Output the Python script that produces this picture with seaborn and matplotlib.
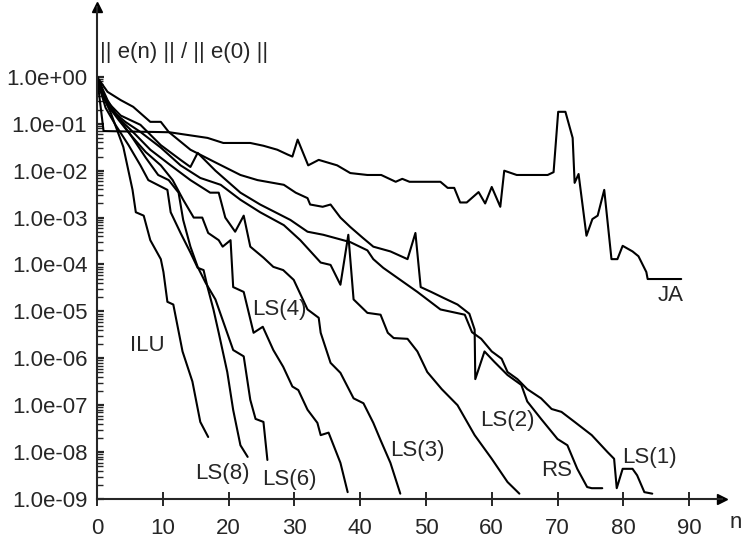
import numpy as np
import pandas as pd
import matplotlib
matplotlib.use("Agg")
import matplotlib.pyplot as plt
import seaborn as sns
from matplotlib.ticker import FixedLocator, FuncFormatter, NullFormatter

# ==============================================================================
# DATA: ||e(n)|| / ||e(0)||
# ==============================================================================
ja_n = [0, 1, 6, 11, 16.8, 19.2, 23.3, 25.3, 27.4, 29.0, 29.7, 30.5, 32.1, 33.7,
        36.5, 38.5, 41.1, 43.2, 45.4, 46.4, 47.5, 52.2, 53.3, 54.3, 55.2, 56.2,
        58.0, 59.0, 60.0, 61.3, 61.9, 63.8, 68.5, 69.4, 70.1, 71.2, 72.3, 72.6,
        73.2, 74.4, 75.3, 76.1, 77.1, 78.2, 79.1, 79.9, 81.4, 82.3, 83.5, 83.7, 88.8]
ja_e = [1.0, 7.0e-2, 6.8e-2, 6.6e-2, 5.0e-2, 3.9e-2, 3.9e-2, 3.4e-2, 2.8e-2, 2.2e-2,
        2.0e-2, 4.6e-2, 1.3e-2, 1.7e-2, 1.3e-2, 8.9e-3, 8.1e-3, 8.1e-3, 5.8e-3,
        6.7e-3, 5.8e-3, 5.8e-3, 4.3e-3, 4.3e-3, 2.1e-3, 2.1e-3, 3.5e-3, 2.0e-3,
        4.5e-3, 1.7e-3, 1.0e-2, 8.1e-3, 8.1e-3, 9.3e-3, 1.8e-1, 1.8e-1, 5.0e-2,
        5.5e-3, 8.5e-3, 4.1e-4, 9.3e-4, 1.1e-3, 3.9e-3, 1.3e-4, 1.3e-4, 2.5e-4,
        1.9e-4, 1.5e-4, 6.9e-5, 4.9e-5, 4.9e-5]

rs_n = [0, 1.6, 3.6, 5.5, 8.1, 9.7, 10.9, 14.2, 18.0, 21.8, 24.4, 28.4, 30.2, 32.0,
        32.4, 34.3, 35.5, 37.0, 38.5, 40.4, 42.0, 44.6, 47.2, 48.4, 49.2, 50.8,
        52.8, 54.8, 56.6, 57.4, 57.5, 58.9, 60.4, 62.4, 64.5, 65.4, 67.5, 70.0,
        71.5, 73.0, 74.5, 75.2, 76.8]
rs_e = [1.0, 4.8e-1, 3.2e-1, 2.3e-1, 1.1e-1, 1.1e-1, 6.7e-2, 2.8e-2, 1.5e-2, 8.1e-3,
        6.3e-3, 5.0e-3, 3.4e-3, 2.6e-3, 1.9e-3, 1.7e-3, 1.9e-3, 1.0e-3, 6.3e-4,
        3.7e-4, 2.4e-4, 1.9e-4, 1.3e-4, 4.7e-4, 3.3e-5, 2.6e-5, 1.9e-5, 1.4e-5,
        8.9e-6, 4.1e-6, 3.6e-7, 1.4e-6, 8.4e-7, 4.4e-7, 2.7e-7, 1.2e-7, 5.1e-8,
        1.9e-8, 1.4e-8, 4.4e-9, 1.8e-9, 1.7e-9, 1.7e-9]

ls1_n = [0, 1.3, 3.6, 6.6, 9.7, 12.7, 14.2, 15.3, 18.0, 21.8, 24.8, 29.4, 32.0, 34.4,
         38.5, 41.1, 42.0, 43.5, 46.1, 48.7, 52.2, 55.9, 57.0, 58.4, 60.0, 61.5,
         62.4, 63.9, 65.4, 67.5, 69.1, 70.6, 72.6, 75.2, 77.6, 78.6, 79.0, 79.9,
         81.4, 82.1, 83.2, 84.4]
ls1_e = [1.0, 3.2e-1, 1.5e-1, 9.5e-2, 3.5e-2, 1.7e-2, 1.2e-2, 2.4e-2, 1.0e-2, 3.4e-3,
         1.9e-3, 8.9e-4, 5.0e-4, 4.3e-4, 3.0e-4, 2.0e-4, 1.3e-4, 8.5e-5, 4.7e-5,
         2.6e-5, 1.1e-5, 8.5e-6, 3.6e-6, 2.6e-6, 1.4e-6, 9.8e-7, 5.1e-7, 3.6e-7,
         2.2e-7, 1.4e-7, 8.3e-8, 7.2e-8, 4.4e-8, 2.3e-8, 1.0e-8, 7.2e-9, 1.7e-9,
         4.4e-9, 4.4e-9, 3.2e-9, 1.4e-9, 1.3e-9]

ls2_n = [0, 0.8, 2.1, 4.3, 6.6, 9.7, 12.7, 15.7, 18.8, 21.8, 24.8, 28.4, 30.9, 34.0,
         35.5, 37.0, 38.2, 39.0, 41.1, 43.1, 44.2, 45.1, 47.2, 48.7, 50.2, 52.4,
         54.8, 57.4, 60.0, 62.4, 64.2]
ls2_e = [1.0, 4.1e-1, 2.0e-1, 1.1e-1, 6.7e-2, 3.1e-2, 1.3e-2, 7.0e-3, 5.0e-3, 2.4e-3,
         1.3e-3, 6.9e-4, 3.3e-4, 1.1e-4, 9.8e-5, 3.7e-5, 4.3e-4, 1.8e-5, 9.3e-6,
         8.5e-6, 3.5e-6, 2.7e-6, 2.6e-6, 1.4e-6, 5.1e-7, 2.2e-7, 1.0e-7, 2.3e-8,
         7.2e-9, 2.3e-9, 1.3e-9]

ls3_n = [0, 0.5, 1.7, 3.6, 5.9, 8.1, 11.2, 14.2, 17.2, 18.5, 19.5, 21.0, 22.3, 23.3,
         25.3, 26.8, 28.3, 29.9, 32.0, 33.7, 34.0, 35.5, 37.0, 39.0, 40.5, 42.0,
         43.1, 44.6, 46.1]
ls3_e = [1.0, 6.8e-1, 2.5e-1, 1.2e-1, 5.8e-2, 2.8e-2, 1.3e-2, 6.3e-3, 3.4e-3, 3.4e-3,
         1.0e-3, 5.0e-4, 1.1e-3, 2.4e-4, 1.4e-4, 8.9e-5, 7.6e-5, 4.7e-5, 1.1e-5,
         7.3e-6, 3.5e-6, 8.0e-7, 4.9e-7, 1.4e-7, 1.1e-7, 4.2e-8, 1.8e-8, 5.9e-9,
         1.3e-9]

ls4_n = [0, 0.5, 1.6, 3.3, 5.1, 7.4, 9.7, 11.5, 13.1, 14.7, 16.0, 16.9, 18.5, 19.1,
         20.3, 20.7, 22.3, 23.8, 25.2, 26.8, 28.3, 29.7, 30.6, 32.0, 33.5, 34.0,
         35.2, 37.0, 38.1]
ls4_e = [1.0, 7.1e-1, 3.2e-1, 1.3e-1, 5.8e-2, 2.5e-2, 1.3e-2, 6.3e-3, 2.4e-3, 1.0e-3,
         1.0e-3, 4.7e-4, 3.3e-4, 2.4e-4, 3.3e-4, 3.3e-5, 2.6e-5, 3.5e-6, 4.7e-6,
         1.5e-6, 6.6e-7, 2.5e-7, 2.1e-7, 8.0e-8, 4.2e-8, 2.3e-8, 2.6e-8, 5.9e-9,
         1.4e-9]

ls6_n = [0, 0.5, 1.6, 3.3, 5.1, 7.4, 9.3, 10.9, 12.4, 13.1, 14.2, 15.3, 16.5, 18.0,
         20.7, 22.3, 23.3, 24.1, 25.3, 25.9]
ls6_e = [1.0, 5.8e-1, 2.5e-1, 1.2e-1, 5.8e-2, 1.9e-2, 8.1e-3, 6.3e-3, 3.4e-3, 8.9e-4,
         2.4e-4, 8.9e-5, 4.1e-5, 1.8e-5, 1.5e-6, 1.1e-6, 1.3e-7, 5.1e-8, 4.4e-8,
         6.8e-9]

ls8_n = [0, 0.5, 1.3, 2.8, 4.8, 6.6, 7.8, 10.7, 11.2, 12.7, 14.2, 15.3, 16.2, 16.8,
         17.7, 18.5, 19.8, 20.7, 21.8, 22.9]
ls8_e = [1.0, 5.3e-1, 2.2e-1, 9.5e-2, 3.5e-2, 1.3e-2, 6.3e-3, 3.9e-3, 1.3e-3, 4.7e-4,
         1.8e-4, 8.5e-5, 7.6e-5, 3.3e-5, 1.1e-5, 3.5e-6, 5.1e-7, 7.9e-8, 1.4e-8,
         7.9e-9]

ilu_n = [0, 0.5, 2.1, 4.0, 5.4, 5.9, 7.1, 8.1, 9.7, 10.1, 10.7, 11.6, 13.0, 14.5,
         15.7, 16.9]
ilu_e = [1.0, 5.3e-1, 1.7e-1, 3.2e-2, 3.9e-3, 1.3e-3, 1.1e-3, 3.3e-4, 1.3e-4, 6.9e-5,
         1.6e-5, 1.4e-5, 1.4e-6, 3.2e-7, 4.4e-8, 2.1e-8]

METHODS = ["JA", "RS", "LS(1)", "LS(2)", "LS(3)", "LS(4)", "LS(6)", "LS(8)", "ILU"]
SERIES = [(ja_n, ja_e), (rs_n, rs_e), (ls1_n, ls1_e), (ls2_n, ls2_e), (ls3_n, ls3_e),
          (ls4_n, ls4_e), (ls6_n, ls6_e), (ls8_n, ls8_e), (ilu_n, ilu_e)]

# curve labels placed next to the curves (n, error)
label_n = [87.2, 69.8, 84.0, 62.4, 48.7, 27.7, 29.3, 19.1, 7.7]
label_e = [2.2e-5, 4.0e-9, 7.6e-9, 4.7e-8, 1.1e-8, 1.1e-5, 2.6e-9, 3.5e-9, 1.9e-6]

# ==============================================================================
# PLOT
# ==============================================================================
frames = []
for name, (n, e) in zip(METHODS, SERIES):
    frames.append(pd.DataFrame({"n": n, "err": e, "method": name}))
df = pd.concat(frames, ignore_index=True)

sns.set_style("ticks")
plt.rcParams["font.family"] = ["Liberation Sans", "DejaVu Sans"]

fig = plt.figure(figsize=(7.48, 5.45), dpi=100)
ax = fig.add_axes([97 / 748, 46 / 545, 625 / 748, 492 / 545])

sns.lineplot(data=df, x="n", y="err", hue="method", palette=["black"] * len(METHODS),
             sort=False, estimator=None, legend=False, linewidth=1.5, ax=ax)

ax.set_yscale("log")
ax.set_xlim(0, 95)
ax.set_ylim(1e-9, 10 ** 1.49)

ax.set_xticks(range(0, 100, 10))
ax.set_yticks([10.0 ** k for k in range(-9, 1)])
ax.yaxis.set_minor_locator(FixedLocator([m * 10.0 ** k for k in range(-9, 0) for m in range(2, 10)]))
ax.yaxis.set_minor_formatter(NullFormatter())
ax.yaxis.set_major_formatter(FuncFormatter(lambda v, _: f"{v:.1e}"))

ax.tick_params(axis="x", direction="inout", length=10, width=1.4, labelsize=16, pad=9)
ax.tick_params(axis="y", which="major", direction="in", length=5, width=1.6, labelsize=16, pad=7)
ax.tick_params(axis="y", which="minor", direction="in", length=4, width=1.0)

for side in ["top", "right"]:
    ax.spines[side].set_visible(False)
for side in ["left", "bottom"]:
    ax.spines[side].set_linewidth(1.5)

# arrow heads at the ends of the axes
ax.plot(1, 0, ">k", markersize=7, transform=ax.transAxes, clip_on=False)
ax.plot(0, 1, "^k", markersize=7, transform=ax.transAxes, clip_on=False)

ax.set_xlabel("")
ax.set_ylabel("")
ax.text(0.5, 10 ** 0.51, "|| e(n) || / || e(0) ||", fontsize=16, ha="left", va="center")
ax.text(96.2, 10 ** -9.5, "n", fontsize=16, ha="left", va="center", clip_on=False)

for name, xn, ye in zip(METHODS, label_n, label_e):
    ax.text(xn, ye, name, fontsize=16, ha="center", va="center")

fig.savefig("out.png", dpi=100)
